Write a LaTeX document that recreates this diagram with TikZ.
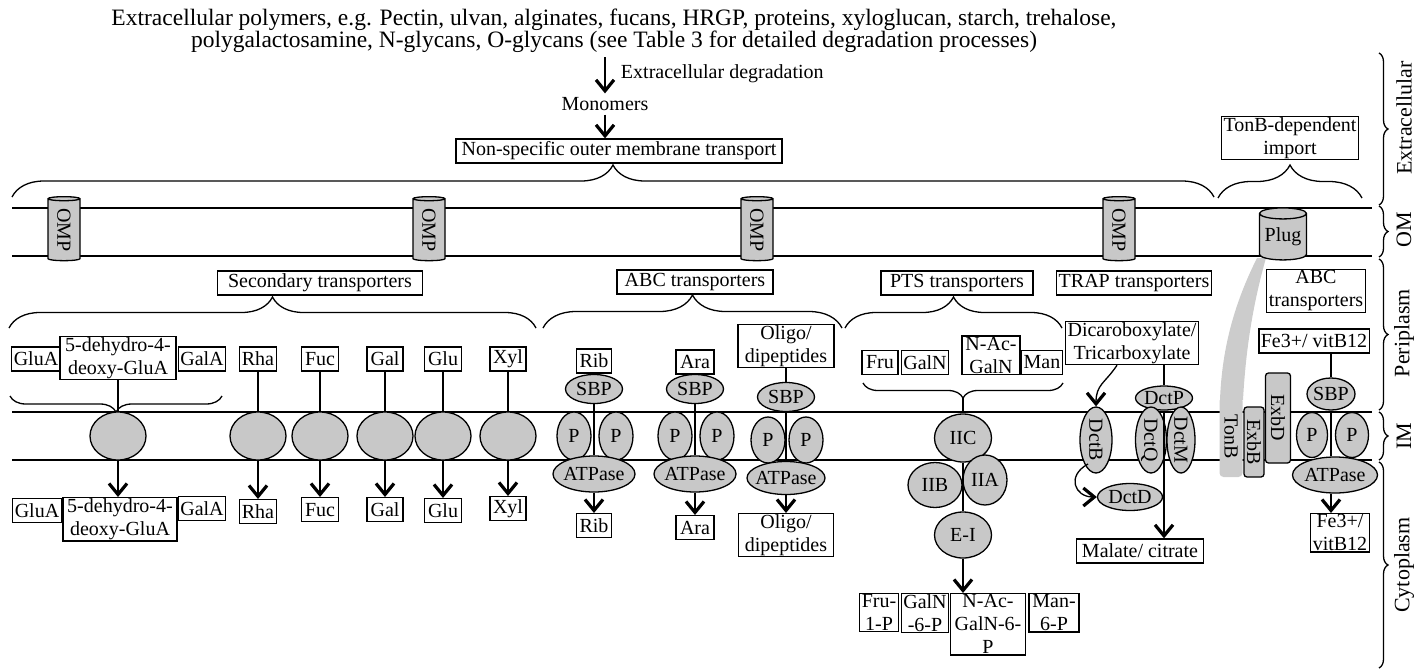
\documentclass[tikz,border=0pt]{standalone}
\usepackage{fontspec}
\setmainfont{Liberation Serif}
\usetikzlibrary{shapes.geometric, decorations.pathreplacing, arrows.meta}
\definecolor{protgray}{RGB}{200,200,200}
\definecolor{bandgray}{RGB}{204,204,204}
\newcommand{\inell}[1]{\makebox[0pt]{\raisebox{-0.33em}[0pt][0pt]{#1}}}

\begin{document}
\begin{tikzpicture}[x=1pt, y=-1pt, line width=1.3pt,
    font=\fontsize{20}{23}\selectfont,
    >={Straight Barb[length=11pt, width=18pt, line width=3.2pt]},
    tbox/.style={draw, fill=white, inner xsep=2pt, inner ysep=1pt, align=center, minimum height=24pt},
    prot/.style={ellipse, draw, fill=protgray, inner sep=0pt},
    secprot/.style={prot, minimum width=56pt, minimum height=48pt},
    sbp/.style={prot, minimum width=57pt, minimum height=29pt},
    pp/.style={prot, minimum width=34pt, minimum height=48pt},
    atp/.style={prot, minimum width=82pt, minimum height=36pt},
    omp/.style={cylinder, draw, fill=protgray, shape border rotate=180, rotate=-90, aspect=0.3, minimum width=32pt, minimum height=64pt, inner sep=0pt},
    membrane/.style={line width=1.8pt},
    layer/.style={rotate=90, font=\fontsize{22}{24}\selectfont},
    cbrace/.style={decorate, decoration={brace, amplitude=#1}},
    mbrace/.style={decorate, decoration={brace, mirror, amplitude=#1}}]
    \useasboundingbox (0,0) rectangle (1417,670);

    % Extracellular
    \node[align=center, inner sep=0pt, font=\fontsize{23.5}{22}\selectfont] (poly) at (614,31) {Extracellular polymers, e.g. Pectin, ulvan, alginates, fucans, HRGP, proteins, xyloglucan, starch, trehalose,\\polygalactosamine, N-glycans, O-glycans (see Table 3 for detailed degradation processes)};
    \node (mono) at (605,104) {Monomers};
    \node[tbox, minimum width=326pt] (nsomt) at (619,151) {Non-specific outer membrane transport};
    \node[tbox, minimum width=134pt] (tonbimp) at (1290,138) {TonB-dependent\\import};
    \draw[->, shorten <=4pt] (mono |- poly.south) -- node[right, xshift=12pt] {Extracellular degradation} (mono.north);
    \draw[->] (mono.south) -- (mono.south |- nsomt.north);
    \draw[cbrace=32] (12,197) -- (1214,197);
    \draw[cbrace=33] (1218,198) -- (1362,198);

    % Membranes
    \draw[membrane] (12,208) -- (1372,208);
    \draw[membrane] (12,256) -- (1372,256);
    \draw[membrane] (12,412) -- (1372,412);
    \draw[membrane] (12,460) -- (1372,460);

    % TonB band
    \fill[bandgray] (1257,258) .. controls (1236,300) and (1222,345) .. (1220,400) -- (1243,400) .. controls (1246,345) and (1254,300) .. (1266,258) -- cycle;

    % Outer membrane proteins
    \node[omp] (omp1) at (64,230) {OMP};
    \node[omp] (omp2) at (429,230) {OMP};
    \node[omp] (omp3) at (757,230) {OMP};
    \node[omp] (omp4) at (1119,230) {OMP};
    \node[omp, minimum width=47pt, minimum height=52pt] (plug) at (1283,237) {\rotatebox{90}{Plug}};

    % Secondary transporters
    \node[tbox, minimum width=205pt] (sec) at (320,283) {Secondary transporters};
    \draw[cbrace=31] (9,328) -- (536,328);
    \draw[mbrace=16] (10,396) -- (222,396);
    \node[tbox, minimum width=44pt] (gluaT) at (36,359) {GluA};
    \node[tbox, minimum width=116pt] (dhT) at (118,358) {5-dehydro-4-\\deoxy-GluA};
    \node[tbox, minimum width=43pt] (galaT) at (202,359) {GalA};
    \node[tbox, minimum width=37pt] (rhaT) at (258,359) {Rha};
    \node[tbox, minimum width=37pt] (fucT) at (320,359) {Fuc};
    \node[tbox, minimum width=36pt] (galT) at (385,359) {Gal};
    \node[tbox, minimum width=37pt] (gluT) at (443,359) {Glu};
    \node[tbox, minimum width=36pt] (xylT) at (508,359) {Xyl};
    \node[secprot] (dhE) at (118,436) {};
    \node[secprot] (rhaE) at (258,436) {};
    \node[secprot] (fucE) at (320,436) {};
    \node[secprot] (galE) at (385,436) {};
    \node[secprot] (gluE) at (443,436) {};
    \node[secprot] (xylE) at (508,436) {};
    \node[tbox, anchor=north, minimum width=44pt] (gluaB) at (37,498) {GluA};
    \node[tbox, anchor=north, minimum width=114pt] (dhB) at (120,497) {5-dehydro-4-\\deoxy-GluA};
    \node[tbox, anchor=north, minimum width=43pt] (galaB) at (202,496) {GalA};
    \node[tbox, anchor=north, minimum width=37pt] (rhaB) at (258,499) {Rha};
    \node[tbox, anchor=north, minimum width=37pt] (fucB) at (320,497) {Fuc};
    \node[tbox, anchor=north, minimum width=36pt] (galB) at (385,497) {Gal};
    \node[tbox, anchor=north, minimum width=37pt] (gluB) at (443,498) {Glu};
    \node[tbox, anchor=north, minimum width=36pt] (xylB) at (508,496) {Xyl};
    \draw (dhT) -- (dhE);
    \draw (rhaT) -- (rhaE);
    \draw (fucT) -- (fucE);
    \draw (galT) -- (galE);
    \draw (gluT) -- (gluE);
    \draw (xylT) -- (xylE);
    \draw[->] (dhE) -- (dhE |- dhB.north);
    \draw[->] (rhaE) -- (rhaB);
    \draw[->] (fucE) -- (fucB);
    \draw[->] (galE) -- (galB);
    \draw[->] (gluE) -- (gluB);
    \draw[->] (xylE) -- (xylB);

    % ABC transporters
    \node[tbox, minimum width=156pt] (abc) at (695,282) {ABC transporters};
    \draw[cbrace=33] (543,328) -- (842,328);
    \node[tbox, minimum width=35pt] (ribT) at (594,361) {Rib};
    \node[sbp] (ribS) at (594,389) {\inell{SBP}};
    \node[pp] (ribPl) at (574,436) {\inell{P}};
    \node[pp] (ribPr) at (616,436) {\inell{P}};
    \node[atp] (ribA) at (594,474) {\inell{ATPase}};
    \node[tbox, anchor=north, minimum width=35pt] (ribB) at (594,513) {Rib};
    \node[tbox, minimum width=38pt] (araT) at (695,362) {Ara};
    \node[sbp] (araS) at (695,389) {\inell{SBP}};
    \node[pp] (araPl) at (675,436) {\inell{P}};
    \node[pp] (araPr) at (717,436) {\inell{P}};
    \node[atp] (araA) at (695,474) {\inell{ATPase}};
    \node[tbox, anchor=north, minimum width=38pt] (araB) at (695,515) {Ara};
    \node[tbox, minimum width=96pt] (oliT) at (786,346) {Oligo/\\dipeptides};
    \node[sbp] (oliS) at (786,397) {\inell{SBP}};
    \node[pp, minimum height=46pt] (oliPl) at (768,440) {\inell{P}};
    \node[pp, minimum height=46pt] (oliPr) at (806,440) {\inell{P}};
    \node[atp, minimum width=78pt, minimum height=33pt] (oliA) at (786,478) {\inell{ATPase}};
    \node[tbox, anchor=north, minimum width=95pt] (oliB) at (786,513) {Oligo/\\dipeptides};
    \draw (ribT) -- (ribS);
    \draw (ribS) -- (ribA);
    \draw[->] (ribA) -- (ribB);
    \draw (araT) -- (araS);
    \draw (araS) -- (araA);
    \draw[->] (araA) -- (araB);
    \draw (oliT) -- (oliS);
    \draw (oliS) -- (oliA);
    \draw[->] (oliA) -- (oliB);

    % PTS transporters
    \node[tbox, minimum width=152pt] (pts) at (957,283) {PTS transporters};
    \draw[cbrace=31] (845,328) -- (1062,328);
    \node[tbox, anchor=south, minimum width=36pt] (fruT) at (880,375) {Fru};
    \node[tbox, anchor=south, minimum width=44pt] (galnT) at (925,375) {GalN};
    \node[tbox, anchor=south, minimum width=58pt] (nacT) at (991,375) {N-Ac-\\GalN};
    \node[tbox, anchor=south, minimum width=37pt] (manT) at (1042,375) {Man};
    \draw[mbrace=15] (863,383) -- (1063,383);
    \coordinate (ptstip) at (963,398);
    \node[prot, minimum width=57pt, minimum height=48pt] (iic) at (963,438) {\inell{IIC}};
    \node[prot, minimum width=54pt, minimum height=45pt] (iib) at (935,485) {\inell{IIB}};
    \node[prot, minimum width=44pt, minimum height=50pt] (iia) at (985,480) {\inell{IIA}};
    \node[prot, minimum width=57pt, minimum height=46pt] (ei) at (963,535) {\inell{E-I}};
    \node[tbox, anchor=north, minimum width=36pt] (fruB) at (879,593) {Fru-\\1-P};
    \node[tbox, anchor=north, minimum width=45pt] (galnB) at (925,593) {GalN\\-6-P};
    \node[tbox, anchor=north, minimum width=75pt] (nacB) at (988,593) {N-Ac-\\GalN-6-\\P};
    \node[tbox, anchor=north, minimum width=50pt] (manB) at (1054,593) {Man-\\6-P};
    \draw (ptstip) -- (iic);
    \draw (iic) -- (ei);
    \draw[->] (ei) -- (ei |- nacB.north);

    % TRAP transporters
    \node[tbox, minimum width=154pt] (trap) at (1134,283) {TRAP transporters};
    \node[tbox, minimum width=129pt] (dicarb) at (1132,343) {Dicaroboxylate/\\Tricarboxylate};
    \node[prot, minimum width=57pt, minimum height=24pt] (dctP) at (1164,398) {\inell{DctP}};
    \node[prot, rotate=-90, minimum width=66pt, minimum height=32pt] (dctB) at (1096,440) {\inell{DctB}};
    \node[prot, rotate=-90, minimum width=66pt, minimum height=31pt] (dctQ) at (1151,440) {\inell{DctQ}};
    \node[prot, rotate=-90, minimum width=66pt, minimum height=28pt] (dctM) at (1181,440) {\inell{DctM}};
    \node[prot, minimum width=65pt, minimum height=27pt] (dctD) at (1130,497) {\inell{DctD}};
    \node[tbox, minimum width=127pt] (malate) at (1140,551) {Malate/ citrate};
    \draw (dicarb.south -| dctP) -- (dctP);
    \draw[->] (dctP) -- (dctP |- malate.north);
    \draw[->] ([xshift=-15pt]dicarb.south) .. controls +(-12,18) and +(0,-22) .. (dctB.west);
    \draw[->] ([shift={(-8,24)}]dctB.center) .. controls +(-22,12) and +(-22,0) .. (dctD.west);

    % TonB-dependent import
    \node[fill=bandgray, rounded corners=4pt, rotate=-90, minimum width=80pt, minimum height=23pt, inner sep=0pt] (tonb) at (1231,437) {TonB};
    \node[draw, fill=protgray, rounded corners=3pt, rotate=-90, minimum width=70pt, minimum height=20pt, inner sep=0pt] (exbb) at (1254,442) {ExbB};
    \node[draw, fill=protgray, rounded corners=3pt, rotate=-90, minimum width=90pt, minimum height=25pt, inner sep=0pt] (exbd) at (1278,418) {ExbD};
    \node[tbox, minimum width=94pt] (abc2) at (1316,291) {ABC\\transporters};
    \node[tbox, minimum width=108pt] (feT) at (1314,341) {Fe3+/ vitB12};
    \node[prot, minimum width=48pt, minimum height=32pt] (feS) at (1331,394) {\inell{SBP}};
    \node[prot, minimum width=31pt, minimum height=45pt] (fePl) at (1312,435) {\inell{P}};
    \node[prot, minimum width=33pt, minimum height=45pt] (fePr) at (1352,435) {\inell{P}};
    \node[atp, minimum width=85pt] (feA) at (1335,475) {\inell{ATPase}};
    \node[tbox, anchor=north, minimum width=55pt] (feB) at (1340,513) {Fe3+/\\vitB12};
    \draw (feT.south -| feS) -- (feS);
    \draw (feS) -- (feS |- feA.north);
    \draw[->] (feA.south -| feS) -- (feS |- feB.north);

    % Compartments
    \draw[cbrace=9] (1379,53) -- (1379,205);
    \draw[cbrace=9] (1379,206) -- (1379,257);
    \draw[cbrace=9] (1379,259) -- (1379,410);
    \draw[cbrace=9] (1379,412) -- (1379,460);
    \draw[cbrace=9] (1379,462) -- (1379,668);
    \node[layer] (extra) at (1404,118) {Extracellular};
    \node[layer] (om) at (1404,230) {OM};
    \node[layer] (peri) at (1404,333) {Periplasm};
    \node[layer] (im) at (1404,436) {IM};
    \node[layer] (cyto) at (1404,565) {Cytoplasm};
\end{tikzpicture}
\end{document}
